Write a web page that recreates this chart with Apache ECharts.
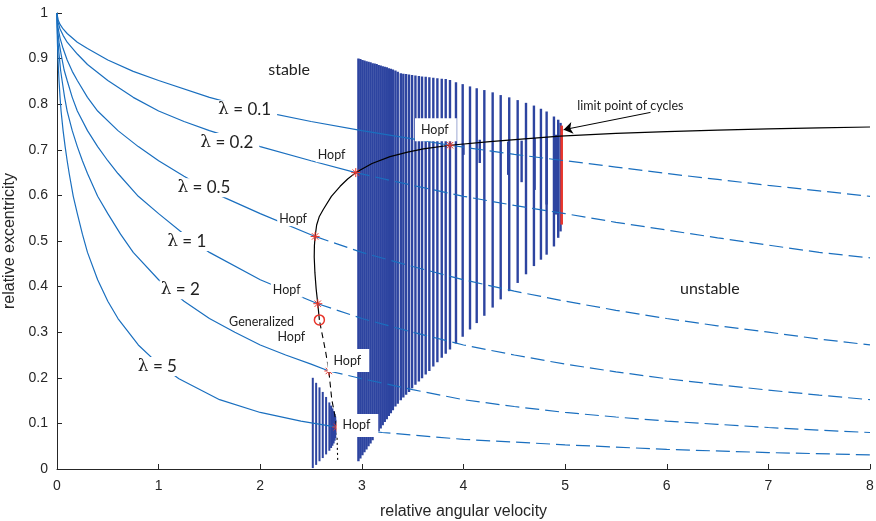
<!DOCTYPE html>
<html>
<head>
<meta charset="utf-8">
<script src="https://cdn.jsdelivr.net/npm/echarts@6/dist/echarts.min.js"></script>
<style>
  html, body { margin: 0; padding: 0; background: #fff; }
  #chart { width: 876px; height: 521px; }
</style>
</head>
<body>
<div id="chart"></div>
<script>
// Stability chart of the journal bearing: load lines for several lambda values,
// Hopf bifurcation curve and the limit-cycle branches ([omega, eMin, eMax]).

// ---- load lines: solid part (stable) and dashed part (unstable) ----
const lam01Solid = [[0,1],[0.01,0.985],[0.03,0.975],[0.06,0.965],[0.1,0.955],[0.2,0.936],[0.3,0.922],[0.5,0.897],[0.75,0.872],[1,0.852],[1.5,0.815],[2,0.785],[2.5,0.762],[3,0.742],[3.5,0.724],[3.867,0.71]];
const lam01Dashed = [[3.867,0.71],[4.5,0.69],[5,0.676],[5.5,0.662],[6,0.648],[6.5,0.635],[7,0.622],[7.5,0.61],[8,0.598]];

const lam02Solid = [[0,1],[0.01,0.98],[0.03,0.965],[0.06,0.951],[0.1,0.936],[0.2,0.91],[0.3,0.887],[0.5,0.852],[0.75,0.815],[1,0.785],[1.25,0.762],[1.5,0.742],[2,0.707],[2.5,0.676],[2.94,0.65]];
const lam02Dashed = [[2.94,0.65],[3.5,0.622],[4,0.598],[4.5,0.578],[5,0.56],[5.5,0.541],[6,0.524],[6.5,0.507],[7,0.491],[7.5,0.475],[8,0.463]];

const lam05Solid = [[0,1],[0.005,0.977],[0.01,0.968],[0.03,0.945],[0.06,0.922],[0.1,0.897],[0.15,0.872],[0.2,0.852],[0.3,0.815],[0.4,0.785],[0.6,0.742],[0.8,0.707],[1,0.676],[1.25,0.642],[1.5,0.61],[2,0.56],[2.54,0.51]];
const lam05Dashed = [[2.54,0.51],[3,0.475],[3.5,0.444],[4,0.415],[4.5,0.39],[5,0.368],[5.5,0.348],[6,0.33],[6.5,0.314],[7,0.3],[7.5,0.285],[8,0.272]];

const lam1Solid = [[0,1],[0.002,0.982],[0.005,0.968],[0.01,0.955],[0.02,0.936],[0.04,0.91],[0.07,0.875],[0.1,0.852],[0.15,0.815],[0.2,0.785],[0.3,0.742],[0.4,0.707],[0.5,0.676],[0.6,0.648],[0.8,0.598],[1,0.56],[1.25,0.515],[1.5,0.475],[2,0.415],[2.566,0.3625]];
const lam1Dashed = [[2.566,0.3625],[3,0.33],[3.5,0.3],[4,0.272],[4.5,0.25],[5,0.23],[5.5,0.213],[6,0.198],[6.5,0.185],[7,0.173],[7.5,0.162],[8,0.152]];

const lam2Solid = [[0,1],[0.001,0.982],[0.0025,0.968],[0.005,0.955],[0.01,0.936],[0.02,0.91],[0.035,0.875],[0.05,0.852],[0.075,0.815],[0.1,0.785],[0.15,0.742],[0.2,0.707],[0.25,0.676],[0.3,0.648],[0.4,0.598],[0.5,0.56],[0.625,0.515],[0.75,0.475],[1,0.415],[1.25,0.368],[1.5,0.33],[1.75,0.3],[2,0.272],[2.25,0.25],[2.5,0.23],[2.675,0.215]];
const lam2Dashed = [[2.675,0.215],[3,0.198],[3.5,0.174],[4,0.152],[4.5,0.137],[5,0.124],[5.5,0.114],[6,0.105],[6.5,0.098],[7,0.091],[7.5,0.085],[8,0.08]];

const lam5Solid = [[0,1],[0.001,0.968],[0.002,0.955],[0.004,0.936],[0.008,0.91],[0.012,0.887],[0.02,0.852],[0.03,0.815],[0.04,0.785],[0.06,0.742],[0.08,0.707],[0.1,0.676],[0.12,0.648],[0.16,0.598],[0.2,0.56],[0.25,0.515],[0.3,0.475],[0.4,0.415],[0.5,0.368],[0.6,0.33],[0.8,0.272],[1,0.23],[1.2,0.198],[1.6,0.152],[2,0.124],[2.4,0.105],[2.753,0.092]];
const lam5Dashed = [[2.753,0.092],[3.2,0.08],[4,0.065],[5,0.053],[6,0.043],[7,0.036],[8,0.031]];

// ---- Hopf bifurcation curve ----
const hopfDotted = [[2.762,0.02],[2.753,0.092]];
const hopfDashed = [[2.753,0.092],[2.728,0.125],[2.704,0.152],[2.675,0.215],[2.645,0.255],[2.62,0.284],[2.598,0.308],[2.582,0.327]];
const hopfSolid = [[2.582,0.327],[2.566,0.3625],[2.55,0.395],[2.538,0.43],[2.531,0.465],[2.533,0.49],[2.54,0.51],[2.555,0.535],[2.58,0.553],[2.62,0.569],[2.7,0.598],[2.786,0.62],[2.86,0.636],[2.94,0.65],[3.1,0.67],[3.277,0.685],[3.45,0.695],[3.605,0.702],[3.867,0.71],[4.26,0.718],[4.6,0.724],[4.95,0.73],[5.5,0.736],[6,0.74],[6.5,0.743],[7,0.746],[7.5,0.748],[8,0.75]];

const hopfPoints = [[3.867,0.71],[2.94,0.65],[2.54,0.51],[2.566,0.3625],[2.675,0.215],[2.753,0.092]];
const generalizedHopf = [[2.582,0.327]];

// ---- limit cycles [omega, eMin, eMax] ----
const largeCycles = [
  [2.966,0.017,0.900],[2.985,0.023,0.899],[3.005,0.030,0.897],[3.025,0.037,0.896],[3.045,0.043,0.894],
  [3.065,0.050,0.893],[3.085,0.056,0.892],[3.105,0.063,0.890],[3.125,0.070,0.889],[3.145,0.076,0.888],
  [3.165,0.083,0.886],[3.185,0.089,0.885],[3.205,0.096,0.883],[3.225,0.103,0.882],[3.245,0.109,0.881],
  [3.265,0.116,0.879],[3.285,0.122,0.878],[3.305,0.129,0.876],
  [3.330,0.137,0.874],[3.353,0.143,0.871],[3.383,0.151,0.868],[3.408,0.157,0.867],[3.435,0.163,0.866],
  [3.464,0.169,0.865],[3.494,0.177,0.864],[3.527,0.185,0.863],[3.561,0.192,0.862],[3.592,0.199,0.861],
  [3.628,0.207,0.860],[3.664,0.215,0.859],[3.703,0.225,0.858],[3.743,0.234,0.857],[3.786,0.244,0.856],
  [3.825,0.253,0.855],[3.867,0.262,0.853],[3.926,0.275,0.848],[3.992,0.290,0.844],[4.064,0.306,0.839],
  [4.130,0.320,0.835],[4.205,0.336,0.831],[4.287,0.354,0.826],[4.366,0.372,0.820],[4.450,0.390,0.815],
  [4.533,0.408,0.809],[4.615,0.427,0.803],[4.693,0.445,0.797],[4.762,0.459,0.790],[4.818,0.470,0.784],
  [4.890,0.488,0.773],[4.932,0.507,0.766],[4.955,0.521,0.759]
];
const smallCycles = [
  [4.000,0.689,0.712],[4.160,0.671,0.722],[4.440,0.645,0.718],[4.572,0.629,0.720],
  [4.700,0.612,0.726],[4.818,0.580,0.729],[4.910,0.558,0.733]
];
const lowCycles = [
  [2.517,0.002,0.200],[2.550,0.009,0.189],[2.583,0.017,0.179],[2.615,0.024,0.169],[2.648,0.032,0.158],
  [2.680,0.040,0.146],[2.697,0.046,0.139],[2.710,0.051,0.133],[2.722,0.056,0.127],[2.732,0.062,0.121],
  [2.740,0.068,0.115],[2.746,0.075,0.108],[2.751,0.083,0.100]
];
const limitCycle = [[4.966,0.536,0.753]];

// ---- annotations ----
const lambdaNames = ['0.1', '0.2', '0.5', '1', '2', '5'];
const lambdaLabelAt = [[1.575,0.788],[1.4,0.716],[1.175,0.617],[1.075,0.499],[1.01,0.393],[0.785,0.225]];
const regionLabels = [['stable',[2.284,0.876]],['unstable',[6.424,0.395]]];
const hopfLabelAt = [[3.728,0.744],[2.702,0.689],[2.323,0.549],[2.26,0.392],[2.867,0.238],[2.956,0.0956]];
const limitArrow = [[5.84,0.782],[4.985,0.744]];

const BLUE = '#1a6fbf';
const BAR = '#2d44a0';
const RED = '#e8352b';
const AXIS = '#262626';
const ANNO_FONT = 'Lato, "Open Sans", sans-serif';

function lineSeries(data, dash, color, width, z) {
  return {
    type: 'line', data, showSymbol: false, symbol: 'none', silent: true, z: z || 3,
    lineStyle: { color, width, type: dash || 'solid' }
  };
}

function rangeSeries(data, color, w, z) {
  return {
    type: 'custom', data, silent: true, z: z || 1,
    encode: { x: 0, y: [1, 2] },
    renderItem(params, api) {
      const top = api.coord([api.value(0), api.value(2)]);
      const bot = api.coord([api.value(0), api.value(1)]);
      return {
        type: 'rect',
        shape: { x: top[0] - w / 2, y: top[1], width: w, height: bot[1] - top[1] },
        style: { fill: color }
      };
    }
  };
}

const asteriskSeries = {
  type: 'custom', data: hopfPoints, silent: true, z: 6,
  encode: { x: 0, y: 1 },
  renderItem(params, api) {
    const c = api.coord([api.value(0), api.value(1)]);
    const r = 4.5, d = r * Math.SQRT1_2;
    const seg = (x1, y1, x2, y2) => ({
      type: 'line',
      shape: { x1: c[0] + x1, y1: c[1] + y1, x2: c[0] + x2, y2: c[1] + y2 },
      style: { stroke: RED, lineWidth: 1 }
    });
    return { type: 'group', children: [seg(-r, 0, r, 0), seg(0, -r, 0, r), seg(-d, -d, d, d), seg(-d, d, d, -d)] };
  }
};

const textItems = [];
lambdaNames.forEach((n, i) => {
  textItems.push({
    value: lambdaLabelAt[i],
    label: {
      formatter: '{l|\u03bb} = ' + n, align: 'left', fontSize: 17,
      backgroundColor: '#fff', padding: [1, 6, 1, 1],
      rich: { l: { fontFamily: '"DejaVu Serif", serif', fontSize: 17, color: '#222' } }
    }
  });
});
regionLabels.forEach(([t, p]) => {
  textItems.push({ value: p, label: { formatter: t, fontSize: 16 } });
});
hopfLabelAt.forEach((p, i) => {
  textItems.push({
    value: p,
    label: { formatter: 'Hopf', fontSize: 12.5, backgroundColor: '#fff', padding: i === 0 || i >= 4 ? [5, 8, 5, 6] : [1, 2, 1, 2] }
  });
});
textItems.push({ value: [2.333, 0.3215], label: { formatter: 'Generalized', fontSize: 12.5, align: 'right' } });
textItems.push({ value: [2.442, 0.289], label: { formatter: 'Hopf', fontSize: 12.5, align: 'right' } });
textItems.push({ value: [5.642, 0.797], label: { formatter: 'limit point of cycles', fontSize: 12.5 } });

const option = {
  animation: false,
  backgroundColor: '#fff',
  grid: { left: 57, right: 6, top: 13, bottom: 52, containLabel: false, outerBoundsMode: 'none' },
  xAxis: {
    type: 'value', min: 0, max: 8, interval: 1,
    name: 'relative angular velocity', nameLocation: 'middle', nameGap: 35,
    nameTextStyle: { fontSize: 16, color: AXIS, fontFamily: '"Liberation Sans", Arial, sans-serif' },
    axisLine: { lineStyle: { color: AXIS, width: 1 } },
    axisTick: { inside: true, length: 5, lineStyle: { color: AXIS } },
    axisLabel: { fontSize: 14, color: AXIS, margin: 10, fontFamily: '"Liberation Sans", Arial, sans-serif' },
    splitLine: { show: false }
  },
  yAxis: {
    type: 'value', min: 0, max: 1, interval: 0.1,
    name: 'relative excentricity', nameLocation: 'middle', nameGap: 34, nameRotate: 90,
    nameTextStyle: { fontSize: 16, color: AXIS, fontFamily: '"Liberation Sans", Arial, sans-serif' },
    axisLine: { show: true, lineStyle: { color: AXIS, width: 1 } },
    axisTick: { show: true, inside: true, length: 5, lineStyle: { color: AXIS } },
    axisLabel: { fontSize: 14, color: AXIS, margin: 9, fontFamily: '"Liberation Sans", Arial, sans-serif' },
    splitLine: { show: false }
  },
  series: [
    rangeSeries(largeCycles, BAR, 2.4, 1),
    rangeSeries(smallCycles, BAR, 2.4, 1),
    rangeSeries(lowCycles, BAR, 2.0, 1),
    rangeSeries(limitCycle, RED, 2.6, 2),

    lineSeries(lam01Solid, null, BLUE, 1.2),
    lineSeries(lam01Dashed, [14, 6], BLUE, 1.2),
    lineSeries(lam02Solid, null, BLUE, 1.2),
    lineSeries(lam02Dashed, [14, 6], BLUE, 1.2),
    lineSeries(lam05Solid, null, BLUE, 1.2),
    lineSeries(lam05Dashed, [14, 6], BLUE, 1.2),
    lineSeries(lam1Solid, null, BLUE, 1.2),
    lineSeries(lam1Dashed, [14, 6], BLUE, 1.2),
    lineSeries(lam2Solid, null, BLUE, 1.2),
    lineSeries(lam2Dashed, [14, 6], BLUE, 1.2),
    lineSeries(lam5Solid, null, BLUE, 1.2),
    lineSeries(lam5Dashed, [14, 6], BLUE, 1.2),

    lineSeries(hopfDotted, [2, 3], '#000', 1.1, 4),
    lineSeries(hopfDashed, [6, 4], '#000', 1.1, 4),
    Object.assign(lineSeries(hopfSolid, null, '#000', 1.2, 4), {
      markLine: {
        silent: true, animation: false,
        symbol: ['none', 'arrow'], symbolSize: 9,
        lineStyle: { color: '#000', width: 1, type: 'solid' },
        label: { show: false },
        data: [[{ coord: limitArrow[0] }, { coord: limitArrow[1] }]]
      }
    }),

    asteriskSeries,
    {
      type: 'scatter', data: generalizedHopf, silent: true, z: 6,
      symbol: 'circle', symbolSize: 10,
      itemStyle: { color: 'rgba(0,0,0,0)', borderColor: RED, borderWidth: 1.5, opacity: 1 }
    },
    {
      type: 'scatter', data: textItems, silent: true, z: 10,
      symbolSize: 0.1, itemStyle: { color: 'rgba(0,0,0,0)', opacity: 1 },
      label: {
        show: true, position: 'inside', color: '#222', opacity: 1,
        fontFamily: ANNO_FONT, verticalAlign: 'middle'
      }
    }
  ]
};

const chart = echarts.init(document.getElementById('chart'), null, { renderer: 'canvas' });
chart.setOption(option);
</script>
</body>
</html>
